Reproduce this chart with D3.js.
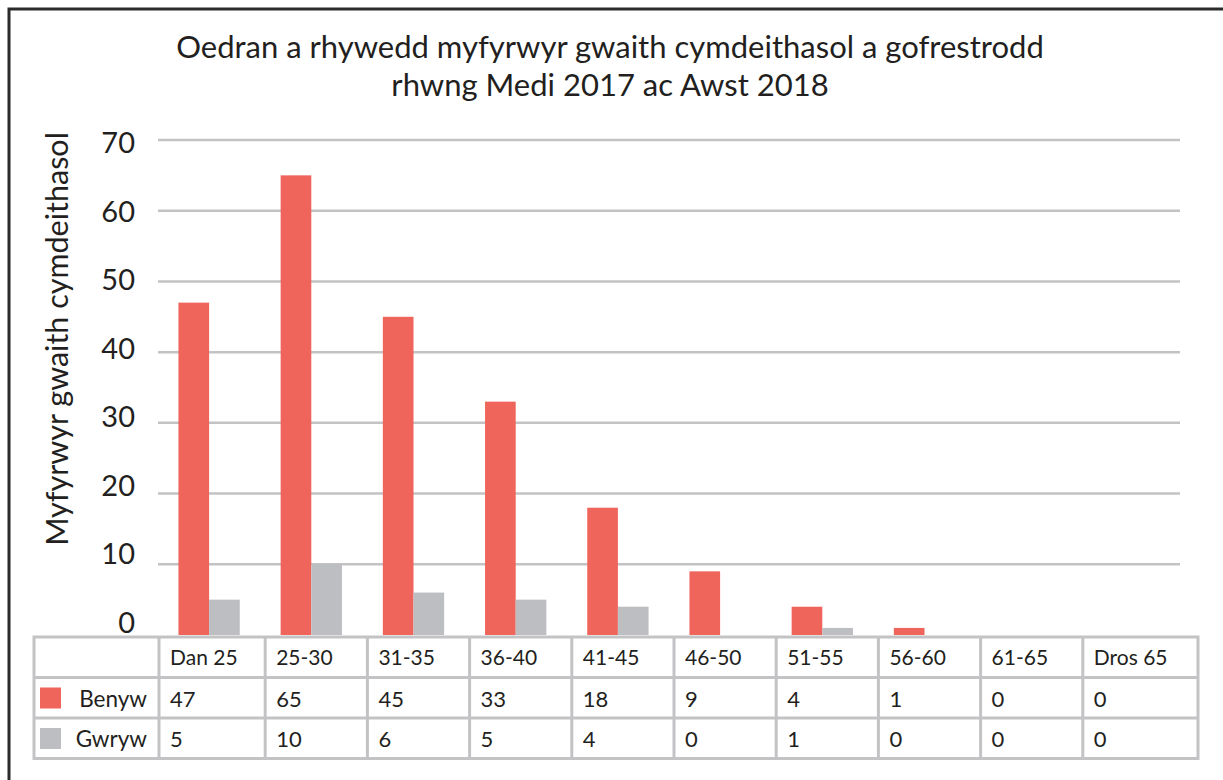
<!DOCTYPE html>
<html>
<head>
<meta charset="utf-8">
<script src="https://cdn.jsdelivr.net/npm/d3@7/dist/d3.min.js"></script>
<style>
  body { margin: 0; background: #fff; }
  svg text { font-family: Lato, "Open Sans", sans-serif; fill: #231f20; }
</style>
</head>
<body>
<svg id="chart"></svg>
<script>
// data
const categories = ['Dan 25', '25-30', '31-35', '36-40', '41-45', '46-50', '51-55', '56-60', '61-65', 'Dros 65'];
const seriesNames = ['Benyw', 'Gwryw'];
const benyw = [47, 65, 45, 33, 18, 9, 4, 1, 0, 0];
const gwryw = [5, 10, 6, 5, 4, 0, 1, 0, 0, 0];
const yTicks = [0, 10, 20, 30, 40, 50, 60, 70];
const titleLines = ['Oedran a rhywedd myfyrwyr gwaith cymdeithasol a gofrestrodd', 'rhwng Medi 2017 ac Awst 2018'];
const yTitle = 'Myfyrwyr gwaith cymdeithasol';

const colors = ['#f0655b', '#bdbec1'];
const width = 1223;
const height = 780;

const svg = d3.select('#chart')
  .attr('width', width)
  .attr('height', height);

// outer frame (runs off the right and bottom edge)
svg.append('rect')
  .attr('x', 9).attr('y', 9)
  .attr('width', 1400).attr('height', 1000)
  .attr('fill', 'none')
  .attr('stroke', '#2b2b2b')
  .attr('stroke-width', 3);

// title
svg.append('g')
  .selectAll('text')
  .data(titleLines)
  .join('text')
  .attr('x', 610)
  .attr('y', (d, i) => 58 + i * 38)
  .attr('text-anchor', 'middle')
  .style('font-size', '31px')
  .text(d => d);

// scales
const x = d3.scaleBand()
  .domain(categories)
  .range([158, 1180])
  .paddingInner(0.4)
  .paddingOuter(0.2);

const xSeries = d3.scaleBand()
  .domain(seriesNames)
  .range([0, x.bandwidth()]);

const y = d3.scaleLinear()
  .domain([0, 70])
  .range([635, 140]);

// the tick labels sit on a slightly tighter spacing than the gridlines
const yLabel = d3.scaleLinear()
  .domain([0, 70])
  .range([622, 142]);

// gridlines
svg.append('g')
  .selectAll('line')
  .data(yTicks.filter(d => d > 0))
  .join('line')
  .attr('x1', 158).attr('x2', 1180)
  .attr('y1', d => y(d)).attr('y2', d => y(d))
  .attr('stroke', '#c3c3c6')
  .attr('stroke-width', 2.5);

// y axis labels
const yAxis = d3.axisLeft(yLabel)
  .tickValues(yTicks)
  .tickSize(0)
  .tickPadding(0);

svg.append('g')
  .attr('transform', 'translate(135,0)')
  .call(yAxis)
  .call(g => g.select('.domain').remove())
  .call(g => g.selectAll('text')
    .style('font-size', '29px')
    .style('font-family', 'Lato, sans-serif')
    .attr('fill', '#231f20')
    .attr('dy', '0.36em'));

svg.append('text')
  .attr('transform', 'translate(68,339) rotate(-90)')
  .attr('text-anchor', 'middle')
  .style('font-size', '30.5px')
  .text(yTitle);

// bars
const rows = categories.map((c, i) => ({ cat: c, Benyw: benyw[i], Gwryw: gwryw[i] }));

const groups = svg.append('g')
  .selectAll('g')
  .data(rows)
  .join('g')
  .attr('transform', d => `translate(${x(d.cat)},0)`);

groups.selectAll('rect')
  .data(d => seriesNames.map((s, i) => ({ s, v: d[s], i })))
  .join('rect')
  .attr('x', d => xSeries(d.s))
  .attr('y', d => y(d.v))
  .attr('width', xSeries.bandwidth())
  .attr('height', d => y(0) - y(d.v))
  .attr('fill', d => colors[d.i]);

// data table
const tableTop = 637;
const rowH = 40.5;
const tableLeft = 34;
const firstCol = 159;
const tableRight = 1198;

// column lines: inner ones follow the category bands
const colEdges = [firstCol]
  .concat(categories.slice(1).map(c => x(c) - x.step() * x.paddingInner() / 2 + 5))
  .concat([tableRight]);

const table = svg.append('g');
const gridColor = '#c3c3c6';

table.append('rect')
  .attr('x', tableLeft).attr('y', tableTop)
  .attr('width', tableRight - tableLeft).attr('height', rowH * 3)
  .attr('fill', 'none')
  .attr('stroke', gridColor)
  .attr('stroke-width', 3);

table.selectAll('line.row')
  .data([1, 2])
  .join('line')
  .attr('class', 'row')
  .attr('x1', tableLeft).attr('x2', tableRight)
  .attr('y1', d => tableTop + d * rowH).attr('y2', d => tableTop + d * rowH)
  .attr('stroke', gridColor)
  .attr('stroke-width', 3);

table.selectAll('line.col')
  .data(colEdges.slice(0, -1))
  .join('line')
  .attr('class', 'col')
  .attr('x1', d => d).attr('x2', d => d)
  .attr('y1', tableTop).attr('y2', tableTop + rowH * 3)
  .attr('stroke', gridColor)
  .attr('stroke-width', 3);

// header row
table.selectAll('text.head')
  .data(categories)
  .join('text')
  .attr('class', 'head')
  .attr('x', (d, i) => colEdges[i] + 11)
  .attr('y', tableTop + 28)
  .style('font-size', '21px')
  .text(d => d);

// value rows
[benyw, gwryw].forEach((vals, r) => {
  const rowY = tableTop + rowH * (r + 1);
  table.append('rect')
    .attr('x', 40).attr('y', rowY + 10)
    .attr('width', 21).attr('height', 21)
    .attr('fill', colors[r]);
  table.append('text')
    .attr('x', 147)
    .attr('y', rowY + 29)
    .attr('text-anchor', 'end')
    .style('font-size', '22.5px')
    .text(seriesNames[r]);
  table.selectAll('text.v' + r)
    .data(vals)
    .join('text')
    .attr('class', 'v' + r)
    .attr('x', (d, i) => colEdges[i] + 11)
    .attr('y', rowY + 29)
    .style('font-size', '22px')
    .text(d => d);
});
</script>
</body>
</html>
